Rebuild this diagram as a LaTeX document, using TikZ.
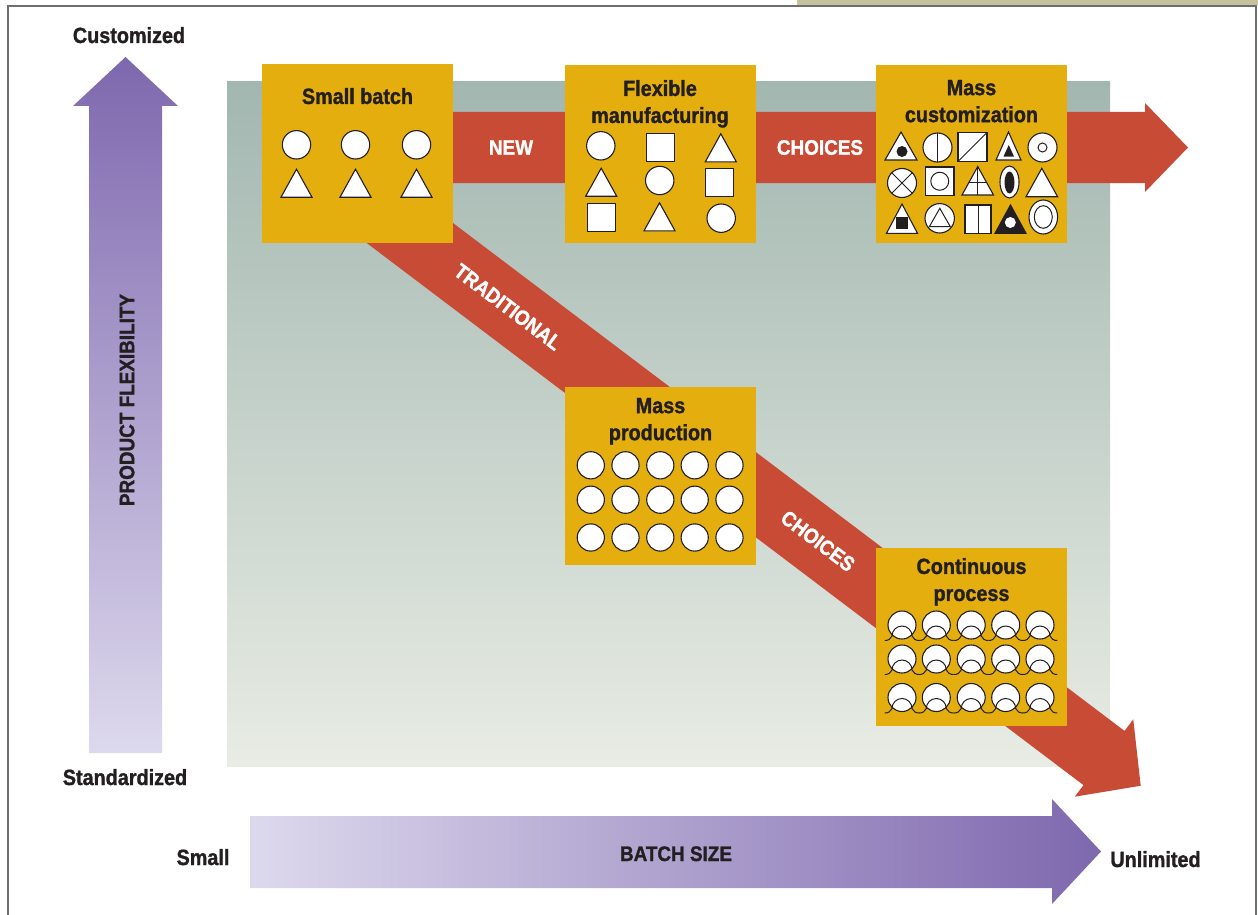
\documentclass[tikz,border=0pt]{standalone}
\usepackage{fontspec}
\setmainfont{Liberation Sans}[FakeStretch=0.9, BoldFeatures={FakeBold=1.3}]
\usetikzlibrary{positioning}
\definecolor{ink}{HTML}{231F20}
\definecolor{gold}{HTML}{E5AE0F}
\definecolor{brick}{HTML}{C84B35}
\definecolor{sage}{HTML}{A2B7B0}
\definecolor{mist}{HTML}{E8ECE4}
\definecolor{violet}{HTML}{7E68AE}
\definecolor{lilac}{HTML}{DDD9ED}
\definecolor{khaki}{HTML}{C5C19D}
\definecolor{rim}{HTML}{6D6E70}
\tikzset{
  sym/.style={draw=ink, fill=white, line width=1.1pt},
  ln/.style={draw=ink, line width=1pt},
  circ/.pic={\path[sym] (0,0) circle (14.2pt);},
  tri/.pic={\path[sym] (-15.5,14) -- (15.5,14) -- (0,-14) -- cycle;},
  sqr/.pic={\path[sym] (-14,-14) rectangle (14,14);},
  coil/.pic={\path[sym] (0,0) circle (14pt);
    \draw[ln] (-17.25,15.5) .. controls (-13.5,15.5) and (-11.5,14) .. (-10,11)
      arc[start angle=180, end angle=0, radius=10pt]
      .. controls (11.5,14) and (13.5,15.5) .. (17.25,15.5);},
}
\begin{document}
\begin{tikzpicture}[x=1pt, y=-1pt,
  every node/.style={inner sep=0pt, text=ink, font=\bfseries\fontsize{22}{27}\selectfont},
  box/.style={fill=gold, minimum width=191pt, minimum height=178pt},
  hd/.style={align=center},
  tag/.style={text=white, font=\bfseries\fontsize{21}{25}\selectfont},
  axis/.style={font=\bfseries\fontsize{21}{25}\selectfont},
  band/.style={fill=brick}]
	\useasboundingbox (0,0) rectangle (1258,915);
	\fill[khaki] (797,0) rectangle (1258,5.5);
	\draw[rim, line width=1.4pt] (8,915) -- (8,6) -- (1256,6) -- (1256,915);
	\shade[top color=sage, bottom color=mist] (227,82) rectangle (1110,766);
	\shade[top color=violet, bottom color=lilac] (89,753) -- (89,106) -- (73,106) -- (125.5,57) -- (178,106) -- (162,106) -- (162,753) -- cycle;
	\shade[left color=lilac, right color=violet] (250,816) -- (1052,816) -- (1052,799) -- (1101,851.5) -- (1052,904) -- (1052,888) -- (250,888) -- cycle;
	\fill[band] (440,112) -- (1145,112) -- (1145,103) -- (1188,147.5) -- (1145,192) -- (1145,183) -- (440,183) -- cycle;
	\begin{scope}[shift={(1104,758)}, rotate=-37.1]
		\fill[band] (-908,-34) -- (0,-34) -- (0,-48.5) -- (46,0) -- (0,48.5) -- (0,34) -- (-908,34) -- cycle;
	\end{scope}
	\node[box] (smallbatch) at (357.5,153.5) {};
	\node[box] (flexible) at (660,154) {};
	\node[box] (masscust) at (971.5,154) {};
	\node[box] (massprod) at (660.5,476) {};
	\node[box] (contproc) at (971.5,636.5) {};
	\node[hd, below=23.5pt of smallbatch.north] (smallbatch-t) {Small batch};
	\node[hd, below=15pt of flexible.north] (flexible-t) {Flexible\\manufacturing};
	\node[hd, below=15pt of masscust.north] (masscust-t) {Mass\\customization};
	\node[hd, below=11pt of massprod.north] (massprod-t) {Mass\\production};
	\node[hd, below=10.5pt of contproc.north] (contproc-t) {Continuous\\process};
	\foreach \x in {296.5,355.5,416.5} {\pic at (\x,144.8) {circ}; \pic at (\x,183.2) {tri};}
	\pic at (600.8,145.8) {circ}; \pic at (660.5,147.8) {sqr}; \pic at (720.8,147.8) {tri};
	\pic at (601.2,182.2) {tri}; \pic at (659.7,180.5) {circ}; \pic at (719.2,182.5) {sqr};
	\pic at (601.8,217.5) {sqr}; \pic at (659.5,216.8) {tri}; \pic at (721.2,218.2) {circ};
	\foreach \x in {590.8,625.5,660.3,694.7,729.5} {\foreach \y in {465.3,499.7,537.5} {\path[sym] (\x,\y) circle (13.6pt);}}
	\foreach \x in {902,936.3,971.2,1005.7,1040} {\foreach \y in {625,659,697.5} {\pic at (\x,\y) {coil};}}
	\path[sym] (885,160) -- (917,160) -- (901,132) -- cycle; \fill[ink] (902,151.5) circle (5.5pt);
	\path[sym] (937.5,147.5) circle (14.5pt); \draw[ln] (937.5,133) -- (937.5,162);
	\path[sym] (958,132.5) rectangle (987,161.5); \draw[ln] (958,161.5) -- (987,132.5);
	\path[sym] (996,160) -- (1021,160) -- (1008.5,132) -- cycle; \fill[ink] (1003.5,156.5) -- (1014,156.5) -- (1008.75,145) -- cycle;
	\path[sym] (1042.5,147.5) circle (14.5pt); \draw[ln] (1042.5,147.5) circle (4.5pt);
	\path[sym] (902,183) circle (14.5pt); \draw[ln] (891.75,172.75) -- (912.25,193.25) (891.75,193.25) -- (912.25,172.75);
	\path[sym] (925.5,167) rectangle (954,195.5); \draw[ln] (939.75,181.25) circle (9pt);
	\path[sym] (962,195) -- (993.5,195) -- (977.75,166.5) -- cycle; \draw[ln] (977.75,166.5) -- (977.75,195) (969.2,182) -- (986.3,182);
	\path[sym] (1009.5,182) ellipse (9.5pt and 16pt); \fill[ink] (1009.5,182.5) ellipse (5pt and 11pt);
	\path[sym] (1026,196.7) -- (1057.6,196.7) -- (1041.8,168.3) -- cycle;
	\path[sym] (886.5,233.3) -- (917.5,233.3) -- (902,204) -- cycle; \fill[ink] (895.7,216.5) rectangle (907.7,228.5);
	\path[sym] (939.7,218.3) circle (14.7pt); \draw[ln] (929.3,226.7) -- (950.3,226.7) -- (939.8,208.3) -- cycle;
	\path[sym] (965,205) rectangle (991,233.3); \draw[ln] (978,205) -- (978,233.3);
	\path[sym, fill=ink] (995,233.3) -- (1026,233.3) -- (1010.5,205) -- cycle; \fill[white] (1010.3,222.5) circle (5.5pt);
	\path[sym] (1043.3,217) ellipse (14.3pt and 17pt); \draw[ln] (1043.3,217) ellipse (9pt and 11.3pt);
	\node[anchor=base] (customized) at (129,43) {Customized};
	\node[anchor=base] (standardized) at (125,785) {Standardized};
	\node[anchor=base] (small) at (203,865) {Small};
	\node[anchor=base] (unlimited) at (1155.5,867) {Unlimited};
	\node[axis, anchor=base] (batchsize) at (676,861) {BATCH SIZE};
	\node[axis, rotate=90] (flexibility) at (127,400) {PRODUCT FLEXIBILITY};
	\node[tag] (new) at (511,147.5) {NEW};
	\node[tag] (choices-a) at (820,147.5) {CHOICES};
	\node[tag, rotate=-37.1] (traditional) at (508,307) {TRADITIONAL};
	\node[tag, rotate=-37.1] (choices-b) at (818,541) {CHOICES};
\end{tikzpicture}
\end{document}
